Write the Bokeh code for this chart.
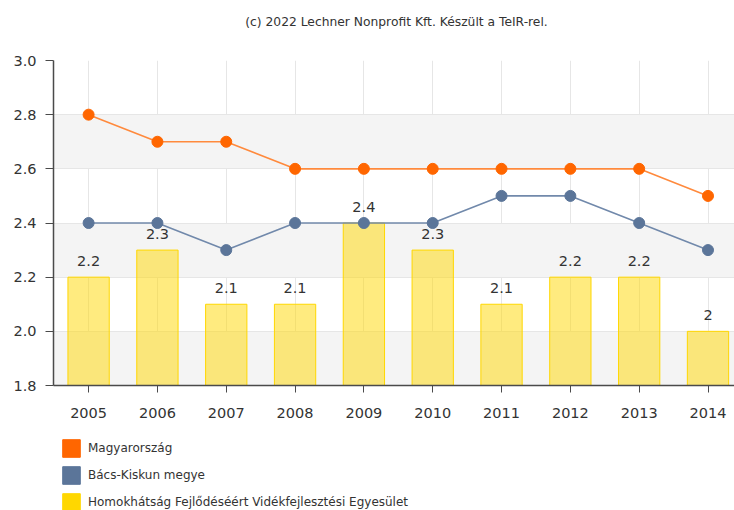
from bokeh.plotting import figure
from bokeh.layouts import column
from bokeh.models import (Range1d, FixedTicker, ColumnDataSource, LabelSet, Label, Legend,
                          LegendItem, PrintfTickFormatter)
from bokeh.core.properties import value
from bokeh.embed import file_html
from bokeh.resources import INLINE

# ---- data ----
years = [2005, 2006, 2007, 2008, 2009, 2010, 2011, 2012, 2013, 2014]
magyarorszag = [2.8, 2.7, 2.7, 2.6, 2.6, 2.6, 2.6, 2.6, 2.6, 2.5]
bacs_kiskun = [2.4, 2.4, 2.3, 2.4, 2.4, 2.4, 2.5, 2.5, 2.4, 2.3]
homokhatsag = [2.2, 2.3, 2.1, 2.1, 2.4, 2.3, 2.1, 2.2, 2.2, 2.0]
y_ticks = [1.8, 2.0, 2.2, 2.4, 2.6, 2.8, 3.0]
series_names = ["Magyarország", "Bács-Kiskun megye",
                "Homokhátság Fejlődéséért Vidékfejlesztési Egyesület"]
series_colors = ["#ff6600", "#5b7599", "#ffd700"]
series_values = [magyarorszag, bacs_kiskun, homokhatsag]
title_text = "(c) 2022 Lechner Nonprofit Kft. Készült a TeIR-rel."

FONT = "DejaVu Sans"
TXT = "#333333"
AXC = "#4a4a4a"
W = 734
LEFT = 53  # frame left edge (frames are aligned in the column)


def blank(height):
    # pixel-unit strip; frame spans LEFT..W horizontally
    f = figure(width=W, height=height, x_range=Range1d(LEFT, W), y_range=Range1d(0, height),
               x_axis_type=None, y_axis_type=None, output_backend="svg",
               toolbar_location=None, min_border=0, min_border_left=LEFT)
    f.outline_line_color = None
    f.grid.visible = False
    return f


# ---- title strip ----
top = blank(40)
top.add_layout(Label(x=396, y=19, text=title_text, text_align="center",
                     text_baseline="middle", text_font=FONT, text_font_size="12.3px",
                     text_color=TXT))

# ---- main chart ----
p = figure(width=W, height=390,
           x_range=Range1d(2004.49, 2014.385), y_range=Range1d(1.8, 3.0),
           output_backend="svg", toolbar_location=None,
           min_border_left=LEFT, min_border_right=0, min_border_top=20,
           min_border_bottom=45)
p.outline_line_color = None
p.background_fill_color = "white"

p.xaxis.ticker = FixedTicker(ticks=years)
p.yaxis.ticker = FixedTicker(ticks=y_ticks)
p.yaxis.formatter = PrintfTickFormatter(format="%.1f")
for ax in (p.xaxis, p.yaxis):
    ax.axis_line_color = AXC
    ax.axis_line_width = 1.5
    ax.major_tick_line_color = AXC
    ax.major_tick_in = 0
    ax.minor_tick_line_color = None
    ax.major_label_text_font = FONT
    ax.major_label_text_font_size = "14.5px"
    ax.major_label_text_color = TXT
p.xaxis.major_tick_out = 7
p.yaxis.major_tick_out = 8
p.xaxis.major_label_standoff = 15
p.yaxis.major_label_standoff = 9

# grids: bottom tick repeated so that the shaded bands start with the lowest interval
p.xgrid.ticker = FixedTicker(ticks=years)
p.ygrid.ticker = FixedTicker(ticks=[y_ticks[0]] + y_ticks)
p.xgrid.grid_line_color = "#e6e6e6"
p.ygrid.grid_line_color = "#e6e6e6"
p.ygrid.band_fill_color = "#f4f4f4"
p.ygrid.band_fill_alpha = 1.0

bar_src = ColumnDataSource(dict(x=years, top=homokhatsag,
                                label=[f"{v:g}" for v in homokhatsag]))
p.vbar(x="x", top="top", bottom=0, width=0.6, source=bar_src,
       fill_color=series_colors[2], fill_alpha=0.5, line_color=series_colors[2],
       line_width=1)

p.line(years, bacs_kiskun, line_color="#7189ab", line_width=1.6)
p.scatter(years, bacs_kiskun, size=11, fill_color=series_colors[1],
          line_color=series_colors[1])
p.line(years, magyarorszag, line_color="#ff8a3d", line_width=1.6)
p.scatter(years, magyarorszag, size=11, fill_color=series_colors[0],
          line_color=series_colors[0])

p.add_layout(LabelSet(x="x", y="top", text="label", source=bar_src, y_offset=11,
                      text_align="center", text_baseline="alphabetic",
                      text_font=value(FONT), text_font_size="14.5px", text_color=TXT))

# ---- legend strip ----
# legend renderers carry the series data but lie outside this strip's ranges,
# so only their legend swatches are visible
leg = blank(80)
items = []
for name, c, vals in zip(series_names, series_colors, series_values):
    r = leg.rect(x=years, y=vals, width=1, height=1, fill_color=c, line_color=c)
    items.append(LegendItem(label=name, renderers=[r]))
leg.add_layout(Legend(items=items, location=(7, -3), orientation="vertical",
                      glyph_width=22, glyph_height=22, label_height=22, spacing=5,
                      padding=0, margin=0, border_line_color=None,
                      background_fill_alpha=0, label_standoff=6,
                      label_text_font=FONT, label_text_font_size="12px",
                      label_text_color=TXT))

layout = column(top, p, leg, spacing=0)
open("out.html", "w").write(file_html(layout, INLINE))
